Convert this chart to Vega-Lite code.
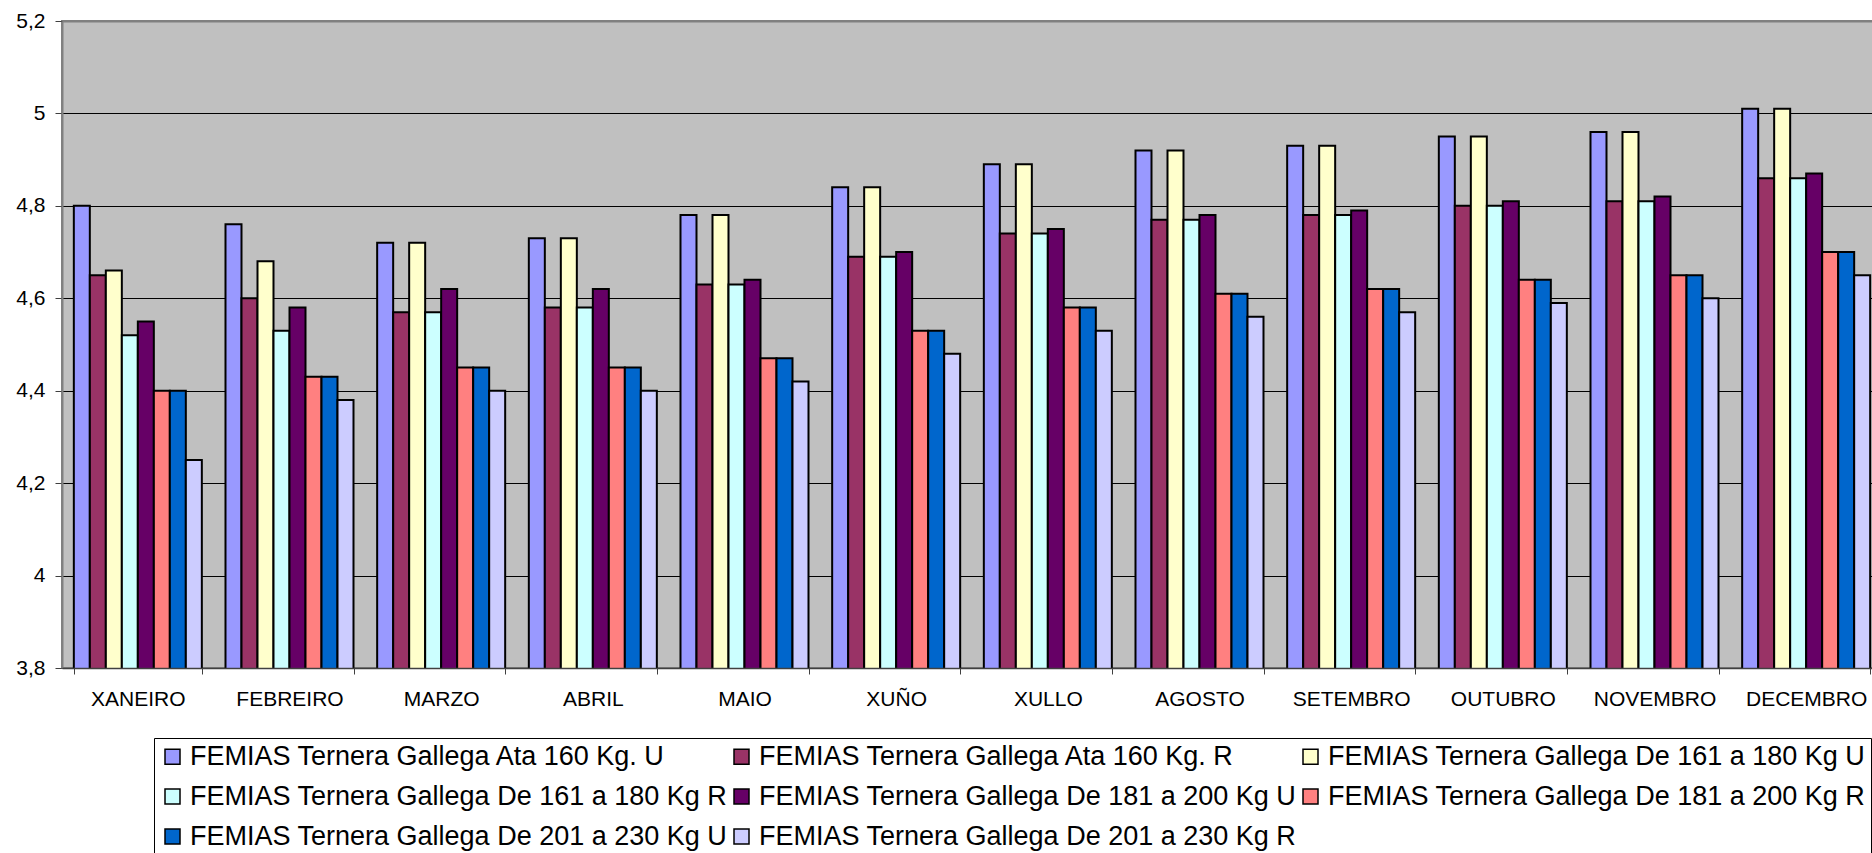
{
  "$schema": "https://vega.github.io/schema/vega-lite/v6.json",
  "autosize": {"type": "none"},
  "padding": {"left": 62, "top": 21, "right": -10, "bottom": 185},
  "width": 1820,
  "height": 647,
  "background": "white",
  "config": {
    "font": "Liberation Sans",
    "view": {"fill": "#C0C0C0", "stroke": "#808080", "strokeWidth": 2}
  },
  "data": {
    "values": [
      {"mes": "XANEIRO", "serie": "FEMIAS Ternera Gallega Ata 160 Kg. U", "valor": 4.80},
      {"mes": "XANEIRO", "serie": "FEMIAS Ternera Gallega Ata 160 Kg. R", "valor": 4.65},
      {"mes": "XANEIRO", "serie": "FEMIAS Ternera Gallega De 161 a 180 Kg U", "valor": 4.66},
      {"mes": "XANEIRO", "serie": "FEMIAS Ternera Gallega De 161 a 180 Kg R", "valor": 4.52},
      {"mes": "XANEIRO", "serie": "FEMIAS Ternera Gallega De 181 a 200 Kg U", "valor": 4.55},
      {"mes": "XANEIRO", "serie": "FEMIAS Ternera Gallega De 181 a 200 Kg R", "valor": 4.40},
      {"mes": "XANEIRO", "serie": "FEMIAS Ternera Gallega De 201 a 230 Kg U", "valor": 4.40},
      {"mes": "XANEIRO", "serie": "FEMIAS Ternera Gallega De 201 a 230 Kg R", "valor": 4.25},
      {"mes": "FEBREIRO", "serie": "FEMIAS Ternera Gallega Ata 160 Kg. U", "valor": 4.76},
      {"mes": "FEBREIRO", "serie": "FEMIAS Ternera Gallega Ata 160 Kg. R", "valor": 4.60},
      {"mes": "FEBREIRO", "serie": "FEMIAS Ternera Gallega De 161 a 180 Kg U", "valor": 4.68},
      {"mes": "FEBREIRO", "serie": "FEMIAS Ternera Gallega De 161 a 180 Kg R", "valor": 4.53},
      {"mes": "FEBREIRO", "serie": "FEMIAS Ternera Gallega De 181 a 200 Kg U", "valor": 4.58},
      {"mes": "FEBREIRO", "serie": "FEMIAS Ternera Gallega De 181 a 200 Kg R", "valor": 4.43},
      {"mes": "FEBREIRO", "serie": "FEMIAS Ternera Gallega De 201 a 230 Kg U", "valor": 4.43},
      {"mes": "FEBREIRO", "serie": "FEMIAS Ternera Gallega De 201 a 230 Kg R", "valor": 4.38},
      {"mes": "MARZO", "serie": "FEMIAS Ternera Gallega Ata 160 Kg. U", "valor": 4.72},
      {"mes": "MARZO", "serie": "FEMIAS Ternera Gallega Ata 160 Kg. R", "valor": 4.57},
      {"mes": "MARZO", "serie": "FEMIAS Ternera Gallega De 161 a 180 Kg U", "valor": 4.72},
      {"mes": "MARZO", "serie": "FEMIAS Ternera Gallega De 161 a 180 Kg R", "valor": 4.57},
      {"mes": "MARZO", "serie": "FEMIAS Ternera Gallega De 181 a 200 Kg U", "valor": 4.62},
      {"mes": "MARZO", "serie": "FEMIAS Ternera Gallega De 181 a 200 Kg R", "valor": 4.45},
      {"mes": "MARZO", "serie": "FEMIAS Ternera Gallega De 201 a 230 Kg U", "valor": 4.45},
      {"mes": "MARZO", "serie": "FEMIAS Ternera Gallega De 201 a 230 Kg R", "valor": 4.40},
      {"mes": "ABRIL", "serie": "FEMIAS Ternera Gallega Ata 160 Kg. U", "valor": 4.73},
      {"mes": "ABRIL", "serie": "FEMIAS Ternera Gallega Ata 160 Kg. R", "valor": 4.58},
      {"mes": "ABRIL", "serie": "FEMIAS Ternera Gallega De 161 a 180 Kg U", "valor": 4.73},
      {"mes": "ABRIL", "serie": "FEMIAS Ternera Gallega De 161 a 180 Kg R", "valor": 4.58},
      {"mes": "ABRIL", "serie": "FEMIAS Ternera Gallega De 181 a 200 Kg U", "valor": 4.62},
      {"mes": "ABRIL", "serie": "FEMIAS Ternera Gallega De 181 a 200 Kg R", "valor": 4.45},
      {"mes": "ABRIL", "serie": "FEMIAS Ternera Gallega De 201 a 230 Kg U", "valor": 4.45},
      {"mes": "ABRIL", "serie": "FEMIAS Ternera Gallega De 201 a 230 Kg R", "valor": 4.40},
      {"mes": "MAIO", "serie": "FEMIAS Ternera Gallega Ata 160 Kg. U", "valor": 4.78},
      {"mes": "MAIO", "serie": "FEMIAS Ternera Gallega Ata 160 Kg. R", "valor": 4.63},
      {"mes": "MAIO", "serie": "FEMIAS Ternera Gallega De 161 a 180 Kg U", "valor": 4.78},
      {"mes": "MAIO", "serie": "FEMIAS Ternera Gallega De 161 a 180 Kg R", "valor": 4.63},
      {"mes": "MAIO", "serie": "FEMIAS Ternera Gallega De 181 a 200 Kg U", "valor": 4.64},
      {"mes": "MAIO", "serie": "FEMIAS Ternera Gallega De 181 a 200 Kg R", "valor": 4.47},
      {"mes": "MAIO", "serie": "FEMIAS Ternera Gallega De 201 a 230 Kg U", "valor": 4.47},
      {"mes": "MAIO", "serie": "FEMIAS Ternera Gallega De 201 a 230 Kg R", "valor": 4.42},
      {"mes": "XUÑO", "serie": "FEMIAS Ternera Gallega Ata 160 Kg. U", "valor": 4.84},
      {"mes": "XUÑO", "serie": "FEMIAS Ternera Gallega Ata 160 Kg. R", "valor": 4.69},
      {"mes": "XUÑO", "serie": "FEMIAS Ternera Gallega De 161 a 180 Kg U", "valor": 4.84},
      {"mes": "XUÑO", "serie": "FEMIAS Ternera Gallega De 161 a 180 Kg R", "valor": 4.69},
      {"mes": "XUÑO", "serie": "FEMIAS Ternera Gallega De 181 a 200 Kg U", "valor": 4.70},
      {"mes": "XUÑO", "serie": "FEMIAS Ternera Gallega De 181 a 200 Kg R", "valor": 4.53},
      {"mes": "XUÑO", "serie": "FEMIAS Ternera Gallega De 201 a 230 Kg U", "valor": 4.53},
      {"mes": "XUÑO", "serie": "FEMIAS Ternera Gallega De 201 a 230 Kg R", "valor": 4.48},
      {"mes": "XULLO", "serie": "FEMIAS Ternera Gallega Ata 160 Kg. U", "valor": 4.89},
      {"mes": "XULLO", "serie": "FEMIAS Ternera Gallega Ata 160 Kg. R", "valor": 4.74},
      {"mes": "XULLO", "serie": "FEMIAS Ternera Gallega De 161 a 180 Kg U", "valor": 4.89},
      {"mes": "XULLO", "serie": "FEMIAS Ternera Gallega De 161 a 180 Kg R", "valor": 4.74},
      {"mes": "XULLO", "serie": "FEMIAS Ternera Gallega De 181 a 200 Kg U", "valor": 4.75},
      {"mes": "XULLO", "serie": "FEMIAS Ternera Gallega De 181 a 200 Kg R", "valor": 4.58},
      {"mes": "XULLO", "serie": "FEMIAS Ternera Gallega De 201 a 230 Kg U", "valor": 4.58},
      {"mes": "XULLO", "serie": "FEMIAS Ternera Gallega De 201 a 230 Kg R", "valor": 4.53},
      {"mes": "AGOSTO", "serie": "FEMIAS Ternera Gallega Ata 160 Kg. U", "valor": 4.92},
      {"mes": "AGOSTO", "serie": "FEMIAS Ternera Gallega Ata 160 Kg. R", "valor": 4.77},
      {"mes": "AGOSTO", "serie": "FEMIAS Ternera Gallega De 161 a 180 Kg U", "valor": 4.92},
      {"mes": "AGOSTO", "serie": "FEMIAS Ternera Gallega De 161 a 180 Kg R", "valor": 4.77},
      {"mes": "AGOSTO", "serie": "FEMIAS Ternera Gallega De 181 a 200 Kg U", "valor": 4.78},
      {"mes": "AGOSTO", "serie": "FEMIAS Ternera Gallega De 181 a 200 Kg R", "valor": 4.61},
      {"mes": "AGOSTO", "serie": "FEMIAS Ternera Gallega De 201 a 230 Kg U", "valor": 4.61},
      {"mes": "AGOSTO", "serie": "FEMIAS Ternera Gallega De 201 a 230 Kg R", "valor": 4.56},
      {"mes": "SETEMBRO", "serie": "FEMIAS Ternera Gallega Ata 160 Kg. U", "valor": 4.93},
      {"mes": "SETEMBRO", "serie": "FEMIAS Ternera Gallega Ata 160 Kg. R", "valor": 4.78},
      {"mes": "SETEMBRO", "serie": "FEMIAS Ternera Gallega De 161 a 180 Kg U", "valor": 4.93},
      {"mes": "SETEMBRO", "serie": "FEMIAS Ternera Gallega De 161 a 180 Kg R", "valor": 4.78},
      {"mes": "SETEMBRO", "serie": "FEMIAS Ternera Gallega De 181 a 200 Kg U", "valor": 4.79},
      {"mes": "SETEMBRO", "serie": "FEMIAS Ternera Gallega De 181 a 200 Kg R", "valor": 4.62},
      {"mes": "SETEMBRO", "serie": "FEMIAS Ternera Gallega De 201 a 230 Kg U", "valor": 4.62},
      {"mes": "SETEMBRO", "serie": "FEMIAS Ternera Gallega De 201 a 230 Kg R", "valor": 4.57},
      {"mes": "OUTUBRO", "serie": "FEMIAS Ternera Gallega Ata 160 Kg. U", "valor": 4.95},
      {"mes": "OUTUBRO", "serie": "FEMIAS Ternera Gallega Ata 160 Kg. R", "valor": 4.80},
      {"mes": "OUTUBRO", "serie": "FEMIAS Ternera Gallega De 161 a 180 Kg U", "valor": 4.95},
      {"mes": "OUTUBRO", "serie": "FEMIAS Ternera Gallega De 161 a 180 Kg R", "valor": 4.80},
      {"mes": "OUTUBRO", "serie": "FEMIAS Ternera Gallega De 181 a 200 Kg U", "valor": 4.81},
      {"mes": "OUTUBRO", "serie": "FEMIAS Ternera Gallega De 181 a 200 Kg R", "valor": 4.64},
      {"mes": "OUTUBRO", "serie": "FEMIAS Ternera Gallega De 201 a 230 Kg U", "valor": 4.64},
      {"mes": "OUTUBRO", "serie": "FEMIAS Ternera Gallega De 201 a 230 Kg R", "valor": 4.59},
      {"mes": "NOVEMBRO", "serie": "FEMIAS Ternera Gallega Ata 160 Kg. U", "valor": 4.96},
      {"mes": "NOVEMBRO", "serie": "FEMIAS Ternera Gallega Ata 160 Kg. R", "valor": 4.81},
      {"mes": "NOVEMBRO", "serie": "FEMIAS Ternera Gallega De 161 a 180 Kg U", "valor": 4.96},
      {"mes": "NOVEMBRO", "serie": "FEMIAS Ternera Gallega De 161 a 180 Kg R", "valor": 4.81},
      {"mes": "NOVEMBRO", "serie": "FEMIAS Ternera Gallega De 181 a 200 Kg U", "valor": 4.82},
      {"mes": "NOVEMBRO", "serie": "FEMIAS Ternera Gallega De 181 a 200 Kg R", "valor": 4.65},
      {"mes": "NOVEMBRO", "serie": "FEMIAS Ternera Gallega De 201 a 230 Kg U", "valor": 4.65},
      {"mes": "NOVEMBRO", "serie": "FEMIAS Ternera Gallega De 201 a 230 Kg R", "valor": 4.60},
      {"mes": "DECEMBRO", "serie": "FEMIAS Ternera Gallega Ata 160 Kg. U", "valor": 5.01},
      {"mes": "DECEMBRO", "serie": "FEMIAS Ternera Gallega Ata 160 Kg. R", "valor": 4.86},
      {"mes": "DECEMBRO", "serie": "FEMIAS Ternera Gallega De 161 a 180 Kg U", "valor": 5.01},
      {"mes": "DECEMBRO", "serie": "FEMIAS Ternera Gallega De 161 a 180 Kg R", "valor": 4.86},
      {"mes": "DECEMBRO", "serie": "FEMIAS Ternera Gallega De 181 a 200 Kg U", "valor": 4.87},
      {"mes": "DECEMBRO", "serie": "FEMIAS Ternera Gallega De 181 a 200 Kg R", "valor": 4.70},
      {"mes": "DECEMBRO", "serie": "FEMIAS Ternera Gallega De 201 a 230 Kg U", "valor": 4.70},
      {"mes": "DECEMBRO", "serie": "FEMIAS Ternera Gallega De 201 a 230 Kg R", "valor": 4.65}
    ]
  },
  "mark": {"type": "bar", "stroke": "black", "strokeWidth": 2, "clip": true},
  "encoding": {
    "x": {
      "field": "mes",
      "type": "nominal",
      "sort": ["XANEIRO", "FEBREIRO", "MARZO", "ABRIL", "MAIO", "XUÑO", "XULLO", "AGOSTO", "SETEMBRO", "OUTUBRO", "NOVEMBRO", "DECEMBRO"],
      "scale": {"paddingInner": 0.156, "paddingOuter": 0.078},
      "axis": {
        "title": null,
        "labelAngle": 0,
        "tickBand": "extent",
        "tickSize": 6,
        "tickColor": "#404040",
        "domainColor": "#404040",
        "domainWidth": 1.5,
        "labelPadding": 31,
        "labelBaseline": "alphabetic",
        "labelFontSize": 21,
        "labelColor": "black",
        "labelFont": "Liberation Sans",
        "zindex": 1
      }
    },
    "xOffset": {
      "field": "serie",
      "type": "nominal",
      "sort": [
        "FEMIAS Ternera Gallega Ata 160 Kg. U",
        "FEMIAS Ternera Gallega Ata 160 Kg. R",
        "FEMIAS Ternera Gallega De 161 a 180 Kg U",
        "FEMIAS Ternera Gallega De 161 a 180 Kg R",
        "FEMIAS Ternera Gallega De 181 a 200 Kg U",
        "FEMIAS Ternera Gallega De 181 a 200 Kg R",
        "FEMIAS Ternera Gallega De 201 a 230 Kg U",
        "FEMIAS Ternera Gallega De 201 a 230 Kg R"
      ],
      "scale": {"paddingInner": 0, "paddingOuter": 0}
    },
    "y": {
      "field": "valor",
      "type": "quantitative",
      "scale": {"domain": [3.8, 5.2], "zero": false, "nice": false},
      "axis": {
        "title": null,
        "values": [3.8, 4.0, 4.2, 4.4, 4.6, 4.8, 5.0, 5.2],
        "labelExpr": "replace(format(datum.value, '~g'), '.', ',')",
        "grid": true,
        "gridColor": {"condition": {"test": "datum.value > 5.1", "value": "#808080"}, "value": "#000000"},
        "gridWidth": {"condition": {"test": "datum.value > 5.1", "value": 2}, "value": 1},
        "gridOpacity": 1,
        "domainColor": "#808080",
        "domainWidth": 2,
        "tickColor": "#404040",
        "tickSize": 7,
        "labelPadding": 10,
        "labelFontSize": 21,
        "labelColor": "black",
        "labelFont": "Liberation Sans"
      }
    },
    "color": {
      "field": "serie",
      "type": "nominal",
      "sort": [
        "FEMIAS Ternera Gallega Ata 160 Kg. U",
        "FEMIAS Ternera Gallega Ata 160 Kg. R",
        "FEMIAS Ternera Gallega De 161 a 180 Kg U",
        "FEMIAS Ternera Gallega De 161 a 180 Kg R",
        "FEMIAS Ternera Gallega De 181 a 200 Kg U",
        "FEMIAS Ternera Gallega De 181 a 200 Kg R",
        "FEMIAS Ternera Gallega De 201 a 230 Kg U",
        "FEMIAS Ternera Gallega De 201 a 230 Kg R"
      ],
      "scale": {"range": ["#9999FF", "#993366", "#FFFFCC", "#CCFFFF", "#660066", "#FF8080", "#0066CC", "#CCCCFF"]},
      "legend": {
        "title": null,
        "orient": "none",
        "legendX": 92,
        "legendY": 717,
        "columns": 3,
        "values": [
          "FEMIAS Ternera Gallega Ata 160 Kg. U",
          "FEMIAS Ternera Gallega De 161 a 180 Kg R",
          "FEMIAS Ternera Gallega De 201 a 230 Kg U",
          "FEMIAS Ternera Gallega Ata 160 Kg. R",
          "FEMIAS Ternera Gallega De 181 a 200 Kg U",
          "FEMIAS Ternera Gallega De 201 a 230 Kg R",
          "FEMIAS Ternera Gallega De 161 a 180 Kg U",
          "FEMIAS Ternera Gallega De 181 a 200 Kg R"
        ],
        "symbolType": "square",
        "symbolSize": 225,
        "symbolStrokeColor": "black",
        "symbolStrokeWidth": 1.5,
        "symbolOpacity": 1,
        "labelFontSize": 27,
        "labelFont": "Liberation Sans",
        "labelColor": "black",
        "labelLimit": 0,
        "labelOffset": 4,
        "rowPadding": 12,
        "columnPadding": -6,
        "padding": 5,
        "strokeColor": "black",
        "fillColor": "white"
      }
    }
  }
}
